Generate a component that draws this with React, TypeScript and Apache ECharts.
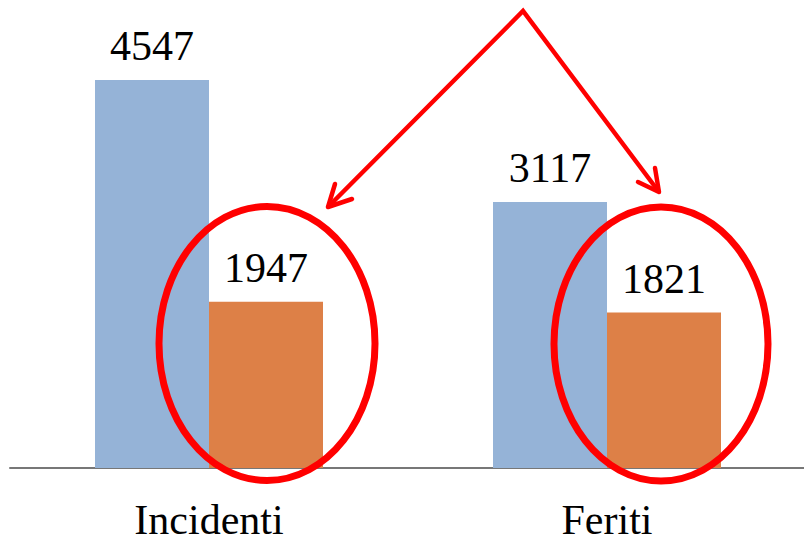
import React, { useEffect, useRef } from "react";
import * as echarts from "echarts";

const categories = ["Incidenti", "Feriti"];
const seriesA = [4547, 3117];
const seriesB = [1947, 1821];

export default function App() {
  const ref = useRef<HTMLDivElement>(null);
  useEffect(() => {
    document.body.style.margin = "0";
    const chart = echarts.init(ref.current!, null, { renderer: "svg" });
    const font = "Liberation Serif, Times New Roman, serif";
    const label = {
      show: true,
      position: "top" as const,
      distance: 13,
      color: "#000",
      fontSize: 42,
      fontFamily: font,
    };
    chart.setOption({
      animation: false,
      backgroundColor: "#fff",
      textStyle: { fontFamily: font },
      grid: {
        left: 10,
        top: 41.3,
        width: 796,
        height: 426.7,
        containLabel: false,
        outerBoundsMode: "none",
      },
      xAxis: {
        type: "category",
        data: categories,
        axisLine: { show: true, lineStyle: { color: "#777", width: 2 } },
        axisTick: { show: false },
        axisLabel: {
          color: "#000",
          fontSize: 42,
          fontFamily: font,
          margin: 37,
          lineHeight: 30,
        },
      },
      yAxis: {
        type: "value",
        min: 0,
        max: 5000,
        show: false,
        splitLine: { show: false },
      },
      series: [
        {
          type: "bar",
          data: seriesA,
          barWidth: 114,
          barGap: "0%",
          itemStyle: { color: "#95B3D7" },
          label,
        },
        {
          type: "bar",
          data: seriesB,
          barWidth: 114,
          barGap: "0%",
          itemStyle: { color: "#DD8047" },
          label,
        },
      ],
      graphic: [
        {
          type: "ellipse",
          shape: { cx: 267, cy: 343.5, rx: 108, ry: 137 },
          style: { fill: "none", stroke: "#FF0000", lineWidth: 7 },
          z: 100,
        },
        {
          type: "ellipse",
          shape: { cx: 661, cy: 344, rx: 107, ry: 137 },
          style: { fill: "none", stroke: "#FF0000", lineWidth: 7 },
          z: 100,
        },
        {
          type: "polyline",
          shape: { points: [[328, 207], [523, 11], [659, 192]] },
          style: { fill: "none", stroke: "#FF0000", lineWidth: 4.5, lineJoin: "miter" },
          z: 100,
        },
        {
          type: "polyline",
          shape: { points: [[352, 199], [328, 207], [335, 184]] },
          style: { fill: "none", stroke: "#FF0000", lineWidth: 4.5, lineCap: "round", lineJoin: "round" },
          z: 100,
        },
        {
          type: "polyline",
          shape: { points: [[655, 168], [659, 192], [638, 182]] },
          style: { fill: "none", stroke: "#FF0000", lineWidth: 4.5, lineCap: "round", lineJoin: "round" },
          z: 100,
        },
      ],
    });
    return () => chart.dispose();
  }, []);
  return <div ref={ref} style={{ width: 804, height: 538 }} />;
}
